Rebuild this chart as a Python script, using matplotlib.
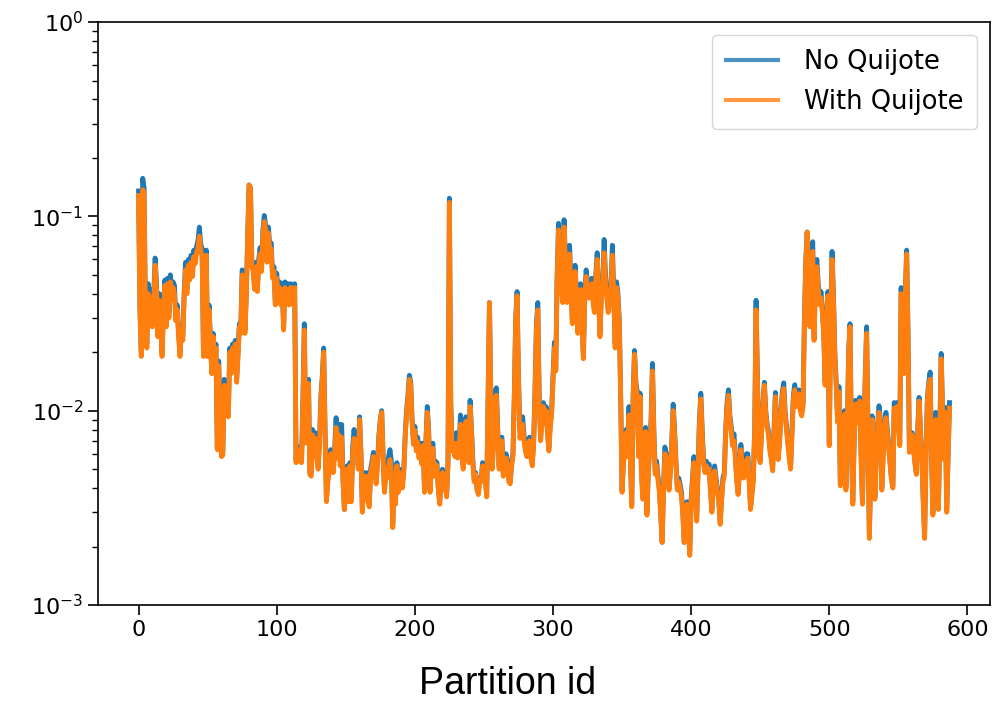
import numpy as np
import matplotlib.pyplot as plt

# loss per partition, partition ids 0..587
no_quijote = [
    0.135, 0.035, 0.020, 0.157, 0.140, 0.030, 0.022, 0.045, 0.035, 0.042,
    0.028, 0.040, 0.061, 0.045, 0.025, 0.040, 0.030, 0.020, 0.033, 0.047,
    0.028, 0.048, 0.032, 0.050, 0.040, 0.046, 0.044, 0.030, 0.035, 0.025,
    0.020, 0.027, 0.024, 0.040, 0.058, 0.042, 0.060, 0.050, 0.063, 0.052,
    0.067, 0.060, 0.070, 0.075, 0.088, 0.072, 0.068, 0.020, 0.060, 0.067,
    0.020, 0.035, 0.024, 0.016, 0.025, 0.018, 0.022, 0.0065, 0.018, 0.0090,
    0.0060, 0.0062, 0.0145, 0.0140, 0.010, 0.0098, 0.021, 0.016, 0.022, 0.018,
    0.023, 0.0145, 0.020, 0.028, 0.026, 0.053, 0.050, 0.026, 0.040, 0.080,
    0.145, 0.140, 0.058, 0.055, 0.043, 0.058, 0.043, 0.060, 0.069, 0.055,
    0.085, 0.101, 0.090, 0.060, 0.088, 0.070, 0.073, 0.050, 0.055, 0.036,
    0.051, 0.040, 0.046, 0.036, 0.045, 0.027, 0.046, 0.040, 0.045, 0.036,
    0.045, 0.044, 0.036, 0.045, 0.0056, 0.0065, 0.0056, 0.0065, 0.0056, 0.012,
    0.028, 0.007, 0.010, 0.0145, 0.0048, 0.0048, 0.008, 0.0060, 0.0077, 0.0060,
    0.0052, 0.0070, 0.012, 0.0150, 0.021, 0.008, 0.0035, 0.0045, 0.0050, 0.0063,
    0.0055, 0.0050, 0.0065, 0.0092, 0.0060, 0.0085, 0.0055, 0.0085, 0.0045, 0.0031,
    0.0045, 0.0052, 0.0035, 0.0054, 0.0035, 0.0065, 0.0080, 0.0065, 0.0075, 0.0052,
    0.0093, 0.0060, 0.0031, 0.0048, 0.0040, 0.0048, 0.0035, 0.0033, 0.0050, 0.0055,
    0.0061, 0.0050, 0.0044, 0.0055, 0.0075, 0.0090, 0.010, 0.0060, 0.0039, 0.0050,
    0.0048, 0.0058, 0.0063, 0.0055, 0.0026, 0.0045, 0.0035, 0.0054, 0.0040, 0.0050,
    0.0045, 0.0042, 0.0050, 0.0075, 0.0100, 0.0120, 0.0152, 0.0140, 0.0090, 0.0070,
    0.0083, 0.0065, 0.0073, 0.0060, 0.0068, 0.0055, 0.0068, 0.0039, 0.0070, 0.0105,
    0.0080, 0.0039, 0.0055, 0.0068, 0.0048, 0.0055, 0.0054, 0.0040, 0.0034, 0.0045,
    0.0050, 0.0040, 0.0045, 0.0037, 0.0055, 0.124, 0.0110, 0.0065, 0.0068, 0.0060,
    0.0077, 0.0060, 0.0063, 0.0095, 0.0065, 0.0052, 0.0075, 0.0093, 0.0065, 0.0056,
    0.0113, 0.0080, 0.0055, 0.0044, 0.0048, 0.0040, 0.0038, 0.0045, 0.0044, 0.0054,
    0.0050, 0.0045, 0.0037, 0.0120, 0.036, 0.0120, 0.0052, 0.0070, 0.0125, 0.0131,
    0.0080, 0.0052, 0.0068, 0.0073, 0.0048, 0.0055, 0.0060, 0.0055, 0.0045, 0.0043,
    0.0054, 0.0060, 0.0120, 0.030, 0.041, 0.0150, 0.0080, 0.0085, 0.0093, 0.0075,
    0.0065, 0.0060, 0.0070, 0.0073, 0.0060, 0.0054, 0.0070, 0.0130, 0.028, 0.036,
    0.0120, 0.0073, 0.0090, 0.0110, 0.0090, 0.0105, 0.0080, 0.0064, 0.0085, 0.0100,
    0.0150, 0.0225, 0.0165, 0.050, 0.092, 0.060, 0.045, 0.038, 0.096, 0.060,
    0.038, 0.050, 0.071, 0.045, 0.029, 0.040, 0.056, 0.040, 0.026, 0.035,
    0.045, 0.030, 0.019, 0.040, 0.053, 0.045, 0.040, 0.045, 0.048, 0.038,
    0.033, 0.050, 0.065, 0.040, 0.025, 0.040, 0.045, 0.076, 0.050, 0.040,
    0.033, 0.037, 0.045, 0.071, 0.040, 0.022, 0.046, 0.040, 0.029, 0.0120,
    0.0039, 0.0055, 0.0065, 0.0080, 0.0060, 0.0105, 0.0060, 0.0033, 0.0120, 0.0204,
    0.0140, 0.0125, 0.0060, 0.0123, 0.0050, 0.0036, 0.0060, 0.0082, 0.0030, 0.0050,
    0.0065, 0.0090, 0.0175, 0.0080, 0.0049, 0.0055, 0.0046, 0.0040, 0.0030, 0.0021,
    0.0040, 0.0065, 0.0060, 0.0050, 0.0040, 0.0050, 0.0070, 0.0108, 0.0080, 0.0055,
    0.0040, 0.0045, 0.0042, 0.0038, 0.0030, 0.0021, 0.0030, 0.0034, 0.0025, 0.0019,
    0.0035, 0.0045, 0.0058, 0.0040, 0.0028, 0.0050, 0.0090, 0.0123, 0.0080, 0.0055,
    0.0050, 0.0055, 0.0050, 0.0053, 0.0040, 0.0031, 0.0045, 0.0052, 0.0045, 0.0040,
    0.0035, 0.0027, 0.0035, 0.0045, 0.0048, 0.0080, 0.0110, 0.0128, 0.0095, 0.0083,
    0.0070, 0.0076, 0.0060, 0.0045, 0.0038, 0.0050, 0.0067, 0.0055, 0.0047, 0.0055,
    0.0060, 0.0060, 0.0045, 0.0032, 0.0038, 0.0045, 0.0080, 0.037, 0.0150, 0.0060,
    0.0056, 0.0080, 0.0110, 0.0140, 0.0100, 0.0085, 0.0078, 0.0065, 0.0058, 0.0051,
    0.0080, 0.0124, 0.0080, 0.0058, 0.0070, 0.0100, 0.0125, 0.0139, 0.0100, 0.0083,
    0.0070, 0.0060, 0.0052, 0.0080, 0.0120, 0.0136, 0.0110, 0.0125, 0.0128, 0.0105,
    0.0098, 0.0110, 0.030, 0.060, 0.083, 0.050, 0.028, 0.060, 0.074, 0.024,
    0.050, 0.060, 0.045, 0.037, 0.041, 0.033, 0.025, 0.014, 0.030, 0.041,
    0.0068, 0.030, 0.066, 0.040, 0.020, 0.014, 0.0090, 0.0133, 0.0042, 0.0070,
    0.0085, 0.0100, 0.0040, 0.0080, 0.0200, 0.028, 0.0070, 0.0034, 0.0070, 0.0113,
    0.0090, 0.0110, 0.0117, 0.0060, 0.0034, 0.0080, 0.0150, 0.027, 0.0080, 0.0023,
    0.0050, 0.0094, 0.0060, 0.0036, 0.0060, 0.0085, 0.0106, 0.0090, 0.0040, 0.0060,
    0.0080, 0.0098, 0.0080, 0.0067, 0.0055, 0.0045, 0.0041, 0.0110, 0.0105, 0.0110,
    0.0090, 0.0068, 0.043, 0.030, 0.016, 0.040, 0.067, 0.025, 0.0063, 0.0070,
    0.0077, 0.0065, 0.0055, 0.0048, 0.0080, 0.0117, 0.0080, 0.0058, 0.0035, 0.0023,
    0.0060, 0.0117, 0.0140, 0.0158, 0.0060, 0.0030, 0.0060, 0.0098, 0.0068, 0.0032,
    0.0080, 0.0197, 0.0100, 0.0058, 0.0104, 0.0031, 0.0060, 0.0110,
]

with_quijote = [
    0.128, 0.032, 0.019, 0.137, 0.132, 0.028, 0.021, 0.040, 0.033, 0.038,
    0.027, 0.036, 0.056, 0.042, 0.024, 0.037, 0.029, 0.019, 0.031, 0.044,
    0.027, 0.045, 0.030, 0.046, 0.037, 0.043, 0.040, 0.029, 0.033, 0.024,
    0.019, 0.026, 0.023, 0.038, 0.053, 0.040, 0.056, 0.047, 0.058, 0.049,
    0.062, 0.057, 0.065, 0.068, 0.079, 0.066, 0.063, 0.019, 0.058, 0.063,
    0.019, 0.033, 0.023, 0.0155, 0.024, 0.017, 0.021, 0.0063, 0.017, 0.0086,
    0.0058, 0.0059, 0.0135, 0.0133, 0.0097, 0.0093, 0.020, 0.0155, 0.021, 0.017,
    0.022, 0.014, 0.019, 0.027, 0.025, 0.050, 0.047, 0.025, 0.038, 0.078,
    0.145, 0.140, 0.055, 0.052, 0.042, 0.055, 0.041, 0.056, 0.064, 0.052,
    0.080, 0.094, 0.085, 0.058, 0.082, 0.066, 0.068, 0.048, 0.052, 0.035,
    0.048, 0.038, 0.043, 0.035, 0.042, 0.026, 0.043, 0.038, 0.042, 0.035,
    0.043, 0.042, 0.035, 0.043, 0.0054, 0.0062, 0.0055, 0.0063, 0.0054, 0.011,
    0.026, 0.0068, 0.0096, 0.0138, 0.0047, 0.0046, 0.0075, 0.0058, 0.0072, 0.0058,
    0.0050, 0.0067, 0.0115, 0.0145, 0.020, 0.0078, 0.0034, 0.0043, 0.0048, 0.0060,
    0.0053, 0.0048, 0.0062, 0.0082, 0.0057, 0.0075, 0.0052, 0.0073, 0.0043, 0.0031,
    0.0043, 0.0050, 0.0034, 0.0052, 0.0034, 0.0060, 0.0072, 0.0062, 0.0070, 0.0050,
    0.0090, 0.0058, 0.0030, 0.0046, 0.0038, 0.0046, 0.0034, 0.0032, 0.0048, 0.0052,
    0.0058, 0.0048, 0.0042, 0.0053, 0.0072, 0.0088, 0.0098, 0.0058, 0.0038, 0.0048,
    0.0045, 0.0052, 0.0056, 0.0048, 0.0025, 0.0042, 0.0033, 0.0052, 0.0038, 0.0048,
    0.0043, 0.0040, 0.0048, 0.0072, 0.0097, 0.0115, 0.0145, 0.0135, 0.0087, 0.0067,
    0.0079, 0.0062, 0.0069, 0.0057, 0.0065, 0.0053, 0.0066, 0.0038, 0.0068, 0.0098,
    0.0076, 0.0038, 0.0052, 0.0064, 0.0046, 0.0053, 0.0052, 0.0039, 0.0033, 0.0044,
    0.0048, 0.0039, 0.0043, 0.0036, 0.0053, 0.118, 0.0105, 0.0062, 0.0063, 0.0058,
    0.0068, 0.0057, 0.0060, 0.0085, 0.0062, 0.0050, 0.0072, 0.0088, 0.0062, 0.0054,
    0.0105, 0.0077, 0.0053, 0.0043, 0.0047, 0.0039, 0.0037, 0.0044, 0.0043, 0.0052,
    0.0048, 0.0044, 0.0036, 0.0118, 0.036, 0.0115, 0.0050, 0.0067, 0.0115, 0.0120,
    0.0076, 0.0050, 0.0065, 0.0070, 0.0046, 0.0053, 0.0057, 0.0052, 0.0043, 0.0042,
    0.0052, 0.0058, 0.0115, 0.029, 0.039, 0.0145, 0.0072, 0.0075, 0.0085, 0.0070,
    0.0062, 0.0058, 0.0067, 0.0070, 0.0057, 0.0052, 0.0067, 0.0125, 0.026, 0.033,
    0.0110, 0.0070, 0.0085, 0.0105, 0.0086, 0.0100, 0.0077, 0.0062, 0.0082, 0.0096,
    0.0140, 0.0210, 0.0160, 0.047, 0.085, 0.055, 0.042, 0.036, 0.088, 0.056,
    0.036, 0.046, 0.064, 0.042, 0.028, 0.038, 0.052, 0.038, 0.025, 0.033,
    0.042, 0.028, 0.0185, 0.038, 0.049, 0.042, 0.038, 0.042, 0.045, 0.036,
    0.032, 0.048, 0.060, 0.038, 0.024, 0.038, 0.042, 0.065, 0.046, 0.038,
    0.032, 0.036, 0.042, 0.063, 0.038, 0.021, 0.043, 0.038, 0.028, 0.0115,
    0.0038, 0.0053, 0.0062, 0.0077, 0.0058, 0.0095, 0.0058, 0.0032, 0.0115, 0.0195,
    0.0135, 0.0115, 0.0058, 0.0118, 0.0048, 0.0035, 0.0058, 0.0078, 0.0029, 0.0048,
    0.0062, 0.0086, 0.0160, 0.0075, 0.0047, 0.0052, 0.0044, 0.0038, 0.0029, 0.0021,
    0.0038, 0.0060, 0.0058, 0.0048, 0.0039, 0.0048, 0.0068, 0.0100, 0.0076, 0.0053,
    0.0039, 0.0043, 0.0040, 0.0036, 0.0029, 0.0021, 0.0029, 0.0033, 0.0024, 0.0018,
    0.0034, 0.0043, 0.0054, 0.0038, 0.0027, 0.0048, 0.0085, 0.0115, 0.0076, 0.0053,
    0.0048, 0.0052, 0.0048, 0.0050, 0.0038, 0.0030, 0.0043, 0.0049, 0.0043, 0.0038,
    0.0034, 0.0026, 0.0034, 0.0043, 0.0046, 0.0076, 0.0105, 0.0120, 0.0090, 0.0078,
    0.0066, 0.0070, 0.0057, 0.0043, 0.0037, 0.0048, 0.0063, 0.0052, 0.0045, 0.0052,
    0.0055, 0.0057, 0.0043, 0.0031, 0.0037, 0.0043, 0.0078, 0.033, 0.0140, 0.0058,
    0.0054, 0.0078, 0.0105, 0.0135, 0.0096, 0.0082, 0.0075, 0.0062, 0.0056, 0.0049,
    0.0077, 0.0118, 0.0077, 0.0056, 0.0068, 0.0096, 0.0120, 0.0130, 0.0096, 0.0080,
    0.0067, 0.0057, 0.0050, 0.0077, 0.0115, 0.0128, 0.0105, 0.0120, 0.0122, 0.0100,
    0.0094, 0.0105, 0.028, 0.058, 0.083, 0.047, 0.027, 0.055, 0.066, 0.023,
    0.046, 0.055, 0.042, 0.035, 0.038, 0.032, 0.024, 0.0135, 0.029, 0.039,
    0.0066, 0.028, 0.060, 0.037, 0.019, 0.0135, 0.0087, 0.0125, 0.0041, 0.0068,
    0.0082, 0.0096, 0.0039, 0.0078, 0.0195, 0.027, 0.0068, 0.0033, 0.0068, 0.0108,
    0.0087, 0.0106, 0.0112, 0.0058, 0.0033, 0.0078, 0.0145, 0.025, 0.0078, 0.0022,
    0.0048, 0.0090, 0.0058, 0.0035, 0.0058, 0.0080, 0.0098, 0.0085, 0.0039, 0.0058,
    0.0076, 0.0092, 0.0077, 0.0064, 0.0053, 0.0044, 0.0040, 0.0103, 0.0100, 0.0105,
    0.0087, 0.0066, 0.040, 0.028, 0.0155, 0.038, 0.064, 0.024, 0.0061, 0.0068,
    0.0075, 0.0063, 0.0053, 0.0047, 0.0078, 0.0112, 0.0077, 0.0056, 0.0034, 0.0022,
    0.0058, 0.0112, 0.0135, 0.0145, 0.0058, 0.0029, 0.0058, 0.0090, 0.0066, 0.0031,
    0.0078, 0.0185, 0.0096, 0.0056, 0.0098, 0.0030, 0.0058, 0.0103,
]

partition_id = np.arange(len(no_quijote))

fig = plt.figure(figsize=(9.95, 7.03), dpi=100)
ax = fig.add_axes([0.0985, 0.1394, 0.8965, 0.8293])

ax.plot(partition_id, no_quijote, label='No Quijote', color='#1f77b4', linewidth=3.5)
ax.plot(partition_id, with_quijote, label='With Quijote', color='#ff7f0e', linewidth=3.5)

ax.set_yscale('log')
ax.set_ylim(1e-3, 1e0)
ax.tick_params(axis='both', which='major', labelsize=16, length=7, width=1.2)
ax.tick_params(axis='y', which='minor', length=4, width=1)
for s in ax.spines.values():
    s.set_linewidth(1.2)

leg = ax.legend(loc='upper right', fontsize=18.5, handlelength=2.0,
                borderpad=0.55, labelspacing=0.55, handletextpad=1.0,
                borderaxespad=0.5)
for line in leg.get_lines():
    line.set_linewidth(3)
    line.set_alpha(0.8)

fig.text(0.51, 0.027, 'Partition id', ha='center', va='center',
         fontsize=27, family='Liberation Sans')

fig.savefig('out.png', dpi=100)
